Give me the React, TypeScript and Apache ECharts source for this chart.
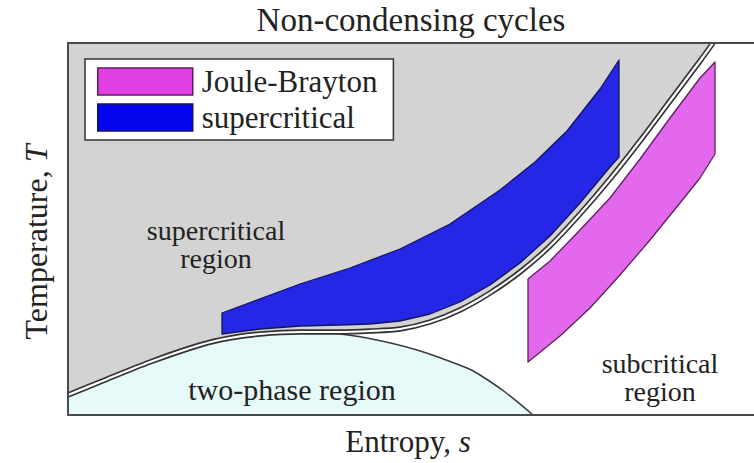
import React, { useEffect, useRef } from "react";
import * as echarts from "echarts";

// Text
const titleText = "Non-condensing cycles";
const xLabelText = "Entropy, ";
const xLabelSymbol = "s";
const yLabelText = "Temperature, ";
const yLabelSymbol = "T";
const legendNames = ["Joule-Brayton", "supercritical"];
const regionLabels = ["supercritical\nregion", "two-phase region", "subcritical\nregion"];

// Entropy s / temperature T (arbitrary units)
// Boundary between supercritical and subcritical regions (double line)
const criticalLine: [number, number][] = [
  [0, 0.2], [0.32, 0.33], [0.82, 0.53], [1.32, 0.7], [1.62, 0.77], [1.92, 0.81],
  [2.32, 0.83], [2.72, 0.83], [3.02, 0.84], [3.32, 0.86], [3.62, 0.93], [3.92, 1.05],
  [4.22, 1.22], [4.52, 1.43], [4.82, 1.69], [5.12, 2.01], [5.42, 2.36], [5.72, 2.74],
  [6.02, 3.14], [6.32, 3.54], [6.45, 3.72],
];

// Two-phase dome
const domeLine: [number, number][] = [
  [0, 0.2], [0.32, 0.33], [0.82, 0.53], [1.32, 0.7], [1.62, 0.77], [1.92, 0.81],
  [2.32, 0.83], [2.62, 0.82], [2.99, 0.77], [3.49, 0.65], [3.99, 0.47], [4.12, 0.4],
  [4.37, 0.23], [4.65, 0.0],
];

// Supercritical cycle
const superUpper: [number, number][] = [
  [1.54, 1.02], [2.32, 1.31], [2.82, 1.47], [3.32, 1.66], [3.82, 1.91], [4.32, 2.25],
  [4.67, 2.53], [4.99, 2.84], [5.32, 3.26], [5.51, 3.55],
];
const superLower: [number, number][] = [
  [1.54, 0.81], [1.92, 0.86], [2.32, 0.89], [2.72, 0.9], [3.02, 0.91], [3.32, 0.94],
  [3.62, 1.01], [3.92, 1.13], [4.22, 1.3], [4.52, 1.52], [4.82, 1.79], [5.12, 2.12],
  [5.42, 2.48], [5.51, 2.58],
];

// Joule-Brayton cycle
const braytonUpper: [number, number][] = [
  [4.6, 1.36], [4.82, 1.54], [5.12, 1.85], [5.42, 2.17], [5.72, 2.56], [6.02, 2.97],
  [6.32, 3.37], [6.47, 3.53],
];
const braytonLower: [number, number][] = [
  [4.6, 0.53], [4.92, 0.79], [5.22, 1.07], [5.52, 1.4], [5.82, 1.75], [6.12, 2.12],
  [6.32, 2.37], [6.47, 2.61],
];

const sRange = [0, 6.86];
const tRange = [0, 3.72];

const FONT = "Liberation Serif";
const TEXT_COLOR = "#222";

function polygonSeries(name: string, upper: [number, number][], lower: [number, number][], fill: string, stroke: string) {
  return {
    type: "custom",
    name,
    silent: true,
    z: 5,
    itemStyle: { color: fill },
    data: [[upper[0][0], upper[0][1]]],
    renderItem: (_params: any, api: any) => {
      const pts = [...upper, ...lower.slice().reverse()].map((p) => api.coord(p));
      return {
        type: "polygon",
        shape: { points: pts },
        style: { fill, stroke, lineWidth: 1.3, lineJoin: "round" },
      };
    },
  };
}

const axisLine = { show: true, lineStyle: { color: "#4a4a4a", width: 2 } };

export default function App() {
  const ref = useRef<HTMLDivElement>(null);
  useEffect(() => {
    if (!ref.current) return;
    const chart = echarts.init(ref.current, undefined, { renderer: "svg" });
    chart.setOption({
      animation: false,
      backgroundColor: "#ffffff",
      grid: { left: 68, top: 43, right: 0, bottom: 48 },
      xAxis: [
        {
          type: "value", min: sRange[0], max: sRange[1], position: "bottom", z: 8,
          axisLine: { ...axisLine, onZero: false }, axisTick: { show: false },
          axisLabel: { show: false }, splitLine: { show: false },
        },
        {
          type: "value", min: sRange[0], max: sRange[1], position: "top", z: 8,
          axisLine: { ...axisLine, onZero: false }, axisTick: { show: false },
          axisLabel: { show: false }, splitLine: { show: false },
        },
      ],
      yAxis: {
        type: "value", min: tRange[0], max: tRange[1], z: 8,
        axisLine: { ...axisLine, onZero: false }, axisTick: { show: false },
        axisLabel: { show: false }, splitLine: { show: false },
      },
      legend: {
        orient: "vertical",
        left: 85,
        top: 59,
        selectedMode: false,
        icon: "rect",
        itemWidth: 95,
        itemHeight: 27,
        itemGap: 5,
        padding: [7, 16, 7, 12],
        backgroundColor: "#ffffff",
        borderColor: "#333",
        borderWidth: 1.5,
        z: 20,
        textStyle: { fontFamily: FONT, fontSize: 31, color: TEXT_COLOR, lineHeight: 31, padding: [0, 0, 0, 4] },
        data: [
          { name: legendNames[0], itemStyle: { color: "#e040e4", borderColor: "#5a1f5a", borderWidth: 1.5 } },
          { name: legendNames[1], itemStyle: { color: "#0606ee", borderColor: "#14145a", borderWidth: 1.5 } },
        ],
      },
      series: [
        {
          type: "line", silent: true, z: 1, showSymbol: false, smooth: 0.3,
          data: domeLine,
          lineStyle: { color: "#3a3a3a", width: 1.5 },
          areaStyle: { color: "#e6fafa", opacity: 1, origin: "start" },
        },
        {
          type: "line", silent: true, z: 1, showSymbol: false, smooth: 0.3,
          data: criticalLine,
          lineStyle: { width: 0, opacity: 0 },
          areaStyle: { color: "#d3d3d3", opacity: 1, origin: "end" },
        },
        {
          type: "line", silent: true, z: 3, showSymbol: false, smooth: 0.3,
          data: criticalLine,
          lineStyle: { color: "#333333", width: 5.5 },
        },
        {
          type: "line", silent: true, z: 3, showSymbol: false, smooth: 0.3,
          data: criticalLine,
          lineStyle: { color: "#ffffff", width: 2.2 },
        },
        polygonSeries(legendNames[1], superUpper, superLower, "#2626e6", "#15155a"),
        polygonSeries(legendNames[0], braytonUpper, braytonLower, "#e468ee", "#5e2060"),
      ],
      graphic: [
        {
          type: "text", x: 411, y: 20, z: 30,
          style: { text: titleText, fontFamily: FONT, fontSize: 33, fill: TEXT_COLOR, align: "center", verticalAlign: "middle" },
        },
        {
          type: "text", x: 408, y: 441, z: 30,
          style: {
            text: `{n|${xLabelText}}{i|${xLabelSymbol}}`, align: "center", verticalAlign: "middle",
            rich: {
              n: { fontFamily: FONT, fontSize: 31, fill: TEXT_COLOR },
              i: { fontFamily: FONT, fontSize: 31, fontStyle: "italic", fill: TEXT_COLOR },
            },
          },
        },
        {
          type: "text", x: 36, y: 242, rotation: Math.PI / 2, z: 30,
          style: {
            text: `{n|${yLabelText}}{i|${yLabelSymbol}}`, align: "center", verticalAlign: "middle",
            rich: {
              n: { fontFamily: FONT, fontSize: 32, fill: TEXT_COLOR },
              i: { fontFamily: FONT, fontSize: 32, fontStyle: "italic", fill: TEXT_COLOR },
            },
          },
        },
        {
          type: "text", x: 216, y: 244, z: 30,
          style: { text: regionLabels[0], fontFamily: FONT, fontSize: 28, lineHeight: 28, fill: TEXT_COLOR, align: "center", verticalAlign: "middle" },
        },
        {
          type: "text", x: 292, y: 389, z: 30,
          style: { text: regionLabels[1], fontFamily: FONT, fontSize: 30, fill: TEXT_COLOR, align: "center", verticalAlign: "middle" },
        },
        {
          type: "text", x: 660, y: 377, z: 30,
          style: { text: regionLabels[2], fontFamily: FONT, fontSize: 28, lineHeight: 28, fill: TEXT_COLOR, align: "center", verticalAlign: "middle" },
        },
      ],
    });
    return () => chart.dispose();
  }, []);
  return <div ref={ref} style={{ position: "fixed", left: 0, top: 0, width: 754, height: 463 }} />;
}
